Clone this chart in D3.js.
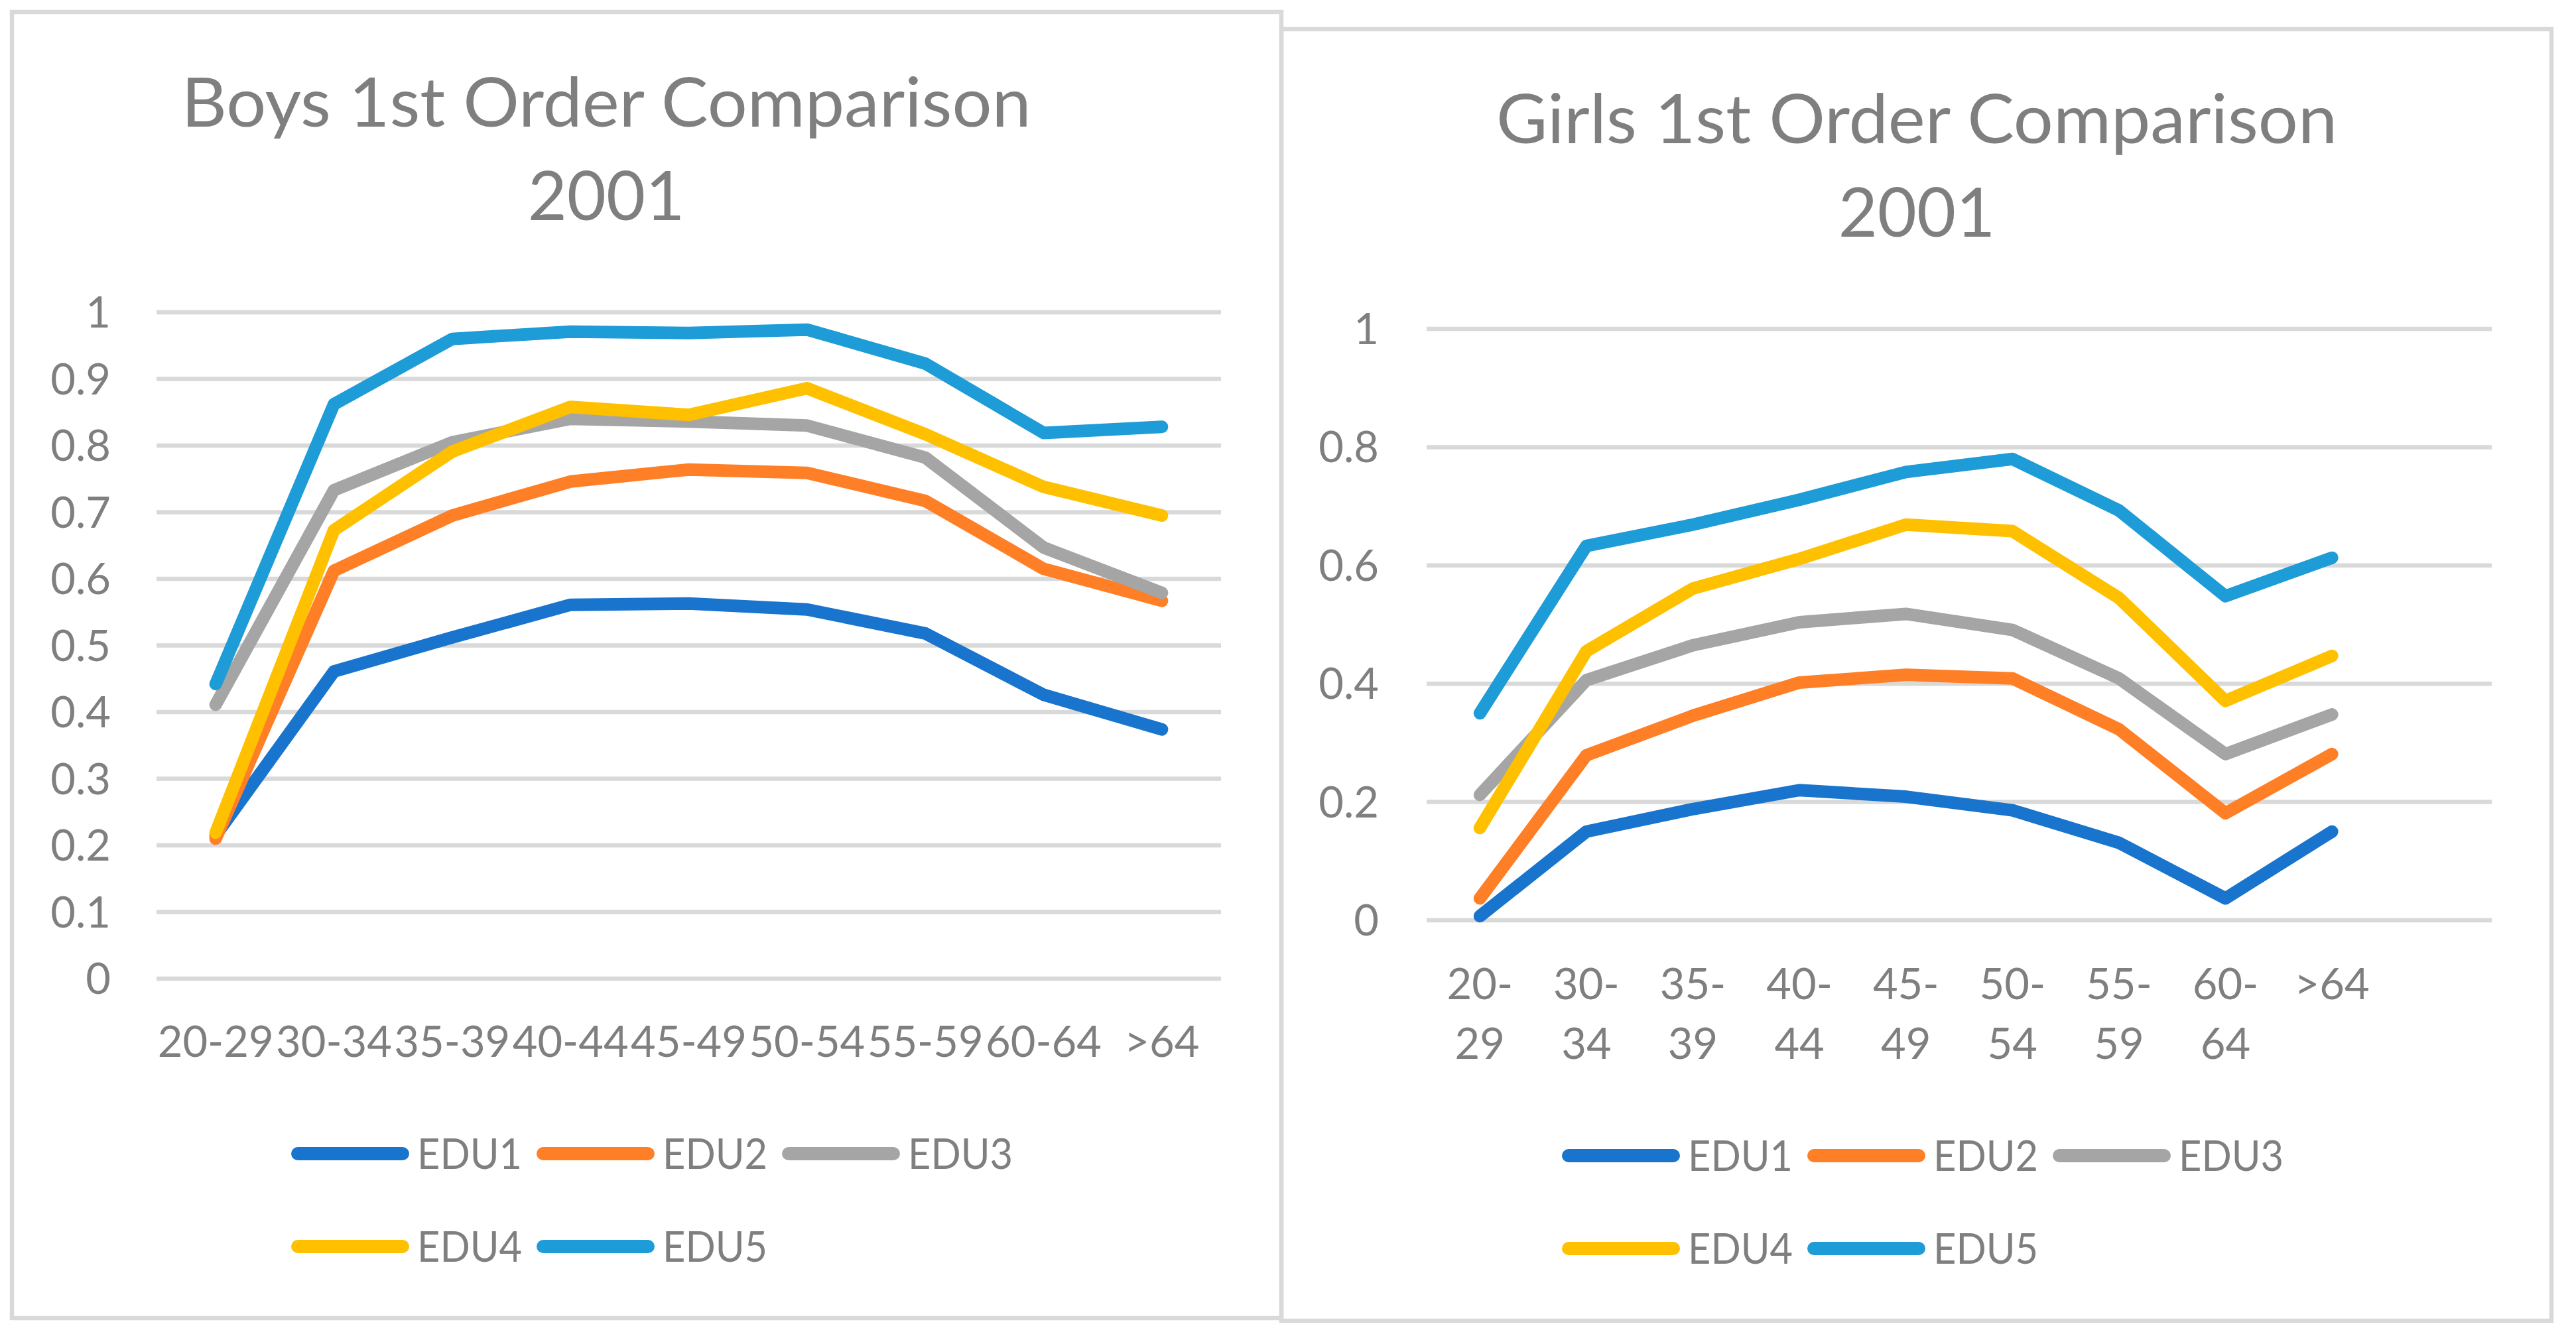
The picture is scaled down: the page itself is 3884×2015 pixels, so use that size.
<!DOCTYPE html>
<html>
<head>
<meta charset="utf-8">
<script src="https://cdn.jsdelivr.net/npm/d3@7"></script>
<style>
  html, body { margin: 0; padding: 0; background: #ffffff; }
  svg { display: block; }
  text { font-family: Lato, "Open Sans", sans-serif; fill: #7f7f7f; }
</style>
</head>
<body>
<svg id="chart" width="3884" height="2015"></svg>
<script>
// ---------- data ----------
const ageGroups = ["20-29", "30-34", "35-39", "40-44", "45-49", "50-54", "55-59", "60-64", ">64"];
const seriesNames = ["EDU1", "EDU2", "EDU3", "EDU4", "EDU5"];
const seriesColors = ["#1874cd", "#ff7f27", "#a5a5a5", "#ffc000", "#1e9cd7"];

const boysEdu1 = [0.215, 0.461, 0.512, 0.561, 0.563, 0.554, 0.518, 0.426, 0.374];
const boysEdu2 = [0.210, 0.612, 0.695, 0.746, 0.764, 0.759, 0.717, 0.615, 0.567];
const boysEdu3 = [0.411, 0.733, 0.805, 0.840, 0.836, 0.830, 0.782, 0.647, 0.579];
const boysEdu4 = [0.219, 0.673, 0.791, 0.858, 0.846, 0.886, 0.817, 0.738, 0.695];
const boysEdu5 = [0.442, 0.862, 0.960, 0.971, 0.969, 0.974, 0.923, 0.819, 0.828];

const girlsEdu1 = [0.007, 0.150, 0.188, 0.220, 0.209, 0.186, 0.131, 0.037, 0.150];
const girlsEdu2 = [0.037, 0.279, 0.346, 0.402, 0.415, 0.409, 0.323, 0.181, 0.281];
const girlsEdu3 = [0.212, 0.406, 0.465, 0.504, 0.518, 0.491, 0.409, 0.281, 0.348];
const girlsEdu4 = [0.156, 0.455, 0.561, 0.611, 0.669, 0.658, 0.545, 0.371, 0.447];
const girlsEdu5 = [0.350, 0.633, 0.669, 0.711, 0.758, 0.780, 0.693, 0.548, 0.613];

const boysYTicks = [0, 0.1, 0.2, 0.3, 0.4, 0.5, 0.6, 0.7, 0.8, 0.9, 1];
const girlsYTicks = [0, 0.2, 0.4, 0.6, 0.8, 1];
const girlsExtraSlots = [""];   // empty category slot at the end of the girls axis

const boysTitle = ["Boys 1st Order Comparison", "2001"];
const girlsTitle = ["Girls 1st Order Comparison", "2001"];

// ---------- drawing ----------
const svg = d3.select("#chart");
svg.append("rect").attr("width", 3884).attr("height", 2015).attr("fill", "#ffffff");

function drawPanel(cfg) {
  const g = svg.append("g");

  // panel border
  g.append("rect")
    .attr("x", cfg.box[0]).attr("y", cfg.box[1])
    .attr("width", cfg.box[2] - cfg.box[0]).attr("height", cfg.box[3] - cfg.box[1])
    .attr("fill", "none").attr("stroke", "#d9d9d9").attr("stroke-width", 6.5);

  // title
  cfg.title.forEach((t, i) => {
    const tt = g.append("text")
      .attr("x", cfg.titleX).attr("y", cfg.titleY[i])
      .attr("text-anchor", "middle")
      .attr("font-size", 102)
      .text(t);
    if (i === 0) tt.attr("textLength", cfg.titleWidth).attr("lengthAdjust", "spacingAndGlyphs");
  });

  const x = d3.scaleBand()
    .domain(cfg.domain)
    .range([cfg.plot[0], cfg.plot[1]]);
  const y = d3.scaleLinear().domain([0, 1]).range([cfg.plot[3], cfg.plot[2]]);
  const cx = d => x(d) + x.bandwidth() / 2;

  // gridlines
  g.append("g").selectAll("line").data(cfg.yTicks).join("line")
    .attr("x1", cfg.plot[0]).attr("x2", cfg.plot[1])
    .attr("y1", d => y(d)).attr("y2", d => y(d))
    .attr("stroke", "#d9d9d9").attr("stroke-width", 6.5);

  // y tick labels
  g.append("g").selectAll("text").data(cfg.yTicks).join("text")
    .attr("x", cfg.yLabelX).attr("y", d => y(d) + 23)
    .attr("text-anchor", "end")
    .attr("font-size", 65)
    .text(d => String(d));

  // x labels
  const xl = g.append("g").selectAll("text").data(ageGroups).join("text")
    .attr("text-anchor", "middle")
    .attr("font-size", 65);
  if (cfg.wrapX) {
    xl.each(function (d) {
      const el = d3.select(this);
      const idx = d.indexOf("-");
      const parts = idx >= 0 ? [d.slice(0, idx + 1), d.slice(idx + 1)] : [d];
      parts.forEach((p, i) => {
        el.append("tspan").attr("x", cx(d)).attr("y", cfg.xLabelY + i * 90).text(p);
      });
    });
  } else {
    xl.attr("x", d => cx(d)).attr("y", cfg.xLabelY).text(d => d);
  }

  // lines
  const line = d3.line().x((v, i) => cx(ageGroups[i])).y(v => y(v));
  cfg.series.forEach((vals, i) => {
    g.append("path")
      .attr("d", line(vals))
      .attr("fill", "none")
      .attr("stroke", seriesColors[i])
      .attr("stroke-width", 19)
      .attr("stroke-linejoin", "round")
      .attr("stroke-linecap", "round");
  });

  // legend
  seriesNames.forEach((name, i) => {
    const row = Math.floor(i / 3), col = i % 3;
    const lx = cfg.legendX + col * 370;
    const ly = cfg.legendY[row];
    g.append("line")
      .attr("x1", lx + 10).attr("x2", lx + 168)
      .attr("y1", ly).attr("y2", ly)
      .attr("stroke", seriesColors[i]).attr("stroke-width", 20)
      .attr("stroke-linecap", "round");
    g.append("text")
      .attr("x", lx + 190).attr("y", ly + 23)
      .attr("font-size", 64)
      .attr("textLength", 158).attr("lengthAdjust", "spacingAndGlyphs")
      .text(name);
  });
}

drawPanel({
  box: [18, 18, 1932, 1988],
  title: boysTitle, titleX: 914, titleY: [191, 332], titleWidth: 1281,
  domain: ageGroups,
  plot: [236, 1841, 471, 1476],
  yTicks: boysYTicks, yLabelX: 167,
  xLabelY: 1594, wrapX: false,
  series: [boysEdu1, boysEdu2, boysEdu3, boysEdu4, boysEdu5],
  legendX: 439, legendY: [1740, 1880]
});

drawPanel({
  box: [1932, 44, 3847, 1992],
  title: girlsTitle, titleX: 2890, titleY: [216, 357], titleWidth: 1268,
  domain: ageGroups.concat(girlsExtraSlots),
  plot: [2151, 3757, 496, 1388],
  yTicks: girlsYTicks, yLabelX: 2079,
  xLabelY: 1507, wrapX: true,
  series: [girlsEdu1, girlsEdu2, girlsEdu3, girlsEdu4, girlsEdu5],
  legendX: 2355, legendY: [1743, 1883]
});
</script>
</body>
</html>
